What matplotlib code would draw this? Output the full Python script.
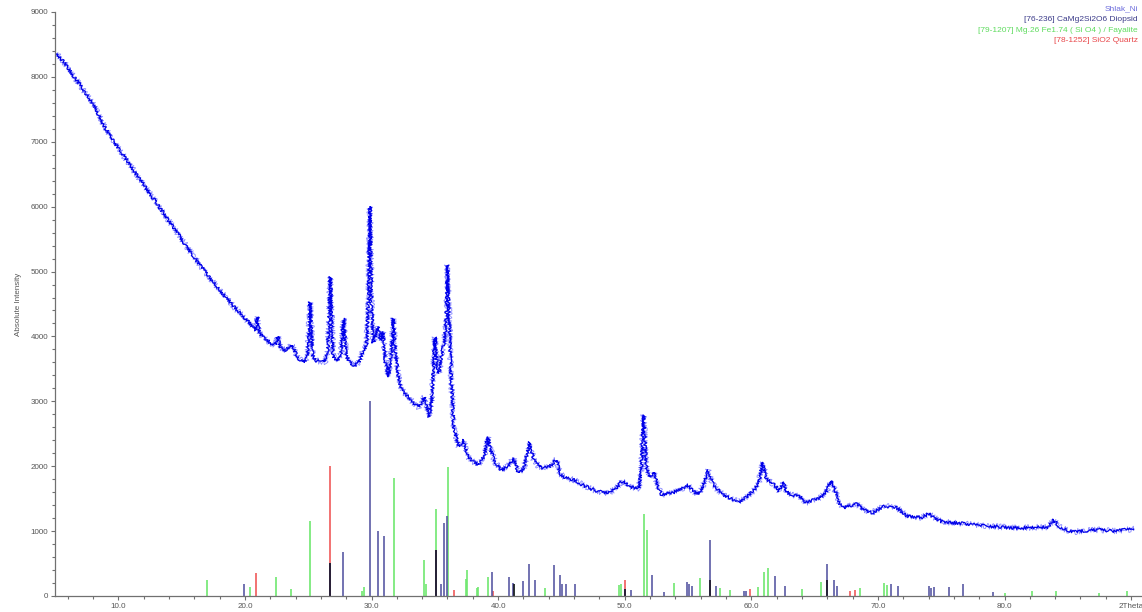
import matplotlib
matplotlib.use("Agg")
import matplotlib.pyplot as plt
import numpy as np
from matplotlib.ticker import MultipleLocator, FixedLocator

plt.rcParams["font.family"] = ["Liberation Sans", "DejaVu Sans"]

scan_2theta = [
    5.0, 5.5, 6.0, 6.5, 7.0, 7.5, 8.0, 8.5, 9.0, 9.5, 10.0, 10.5, 11.0, 11.5,
    12.0, 12.5, 13.0, 13.5, 14.0, 14.5, 15.0, 15.5, 16.0, 16.5, 17.0, 17.5,
    18.0, 18.5, 19.0, 19.5, 20.0, 20.5, 20.85, 21.0, 21.15, 21.5, 22.0, 22.4,
    22.6, 22.8, 23.2, 23.7, 24.2, 24.7, 24.95, 25.15, 25.35, 25.7, 26.3, 26.55,
    26.75, 26.95, 27.3, 27.6, 27.8, 28.0, 28.3, 28.6, 29.0, 29.35, 29.6, 29.75,
    29.88, 30.0, 30.15, 30.5, 30.7, 30.9, 31.1, 31.35, 31.55, 31.72, 31.9, 32.2,
    32.5, 32.9, 33.3, 33.7, 34.2, 34.55, 34.8, 35.0, 35.2, 35.35, 35.6, 35.75,
    35.9, 36.0, 36.12, 36.3, 36.5, 36.9, 37.3, 37.6, 38.0, 38.4, 38.9, 39.2,
    39.4, 39.8, 40.25, 40.8, 41.2, 41.6, 42.0, 42.5, 42.8, 43.2, 43.6, 44.1,
    44.6, 44.9, 45.3, 46.0, 46.8, 47.6, 48.2, 48.7, 49.3, 49.7, 50.0, 50.4,
    51.1, 51.3, 51.5, 51.7, 51.95, 52.3, 52.6, 52.9, 53.4, 53.9, 54.5, 55.0,
    55.4, 55.8, 56.2, 56.6, 56.9, 57.2, 57.8, 58.4, 59.0, 59.6, 60.2, 60.6,
    60.9, 61.2, 61.5, 61.9, 62.2, 62.5, 62.8, 63.2, 63.8, 64.3, 64.8, 65.4,
    65.9, 66.3, 66.6, 67.0, 67.3, 67.8, 68.3, 68.8, 69.5, 70.0, 70.5, 71.0,
    71.5, 72.0, 72.4, 73.0, 73.5, 74.0, 74.5, 75.0, 75.8, 76.6, 77.5, 78.5,
    79.7, 80.5, 81.5, 82.5, 83.4, 83.9, 84.3, 85.0, 85.5, 86.5, 87.5, 88.5,
    89.5, 90.2,
]
scan_counts = [
    8370, 8280, 8150, 8000, 7870, 7720, 7580, 7400, 7200, 7050, 6900, 6760, 6620, 6480,
    6340, 6200, 6060, 5920, 5780, 5640, 5500, 5360, 5220, 5090, 4960, 4840,
    4720, 4600, 4490, 4380, 4280, 4180, 4100, 4300, 4050, 3980, 3900, 3870,
    4000, 3830, 3780, 3870, 3660, 3600, 3700, 4530, 3700, 3620, 3600, 3750,
    4920, 3700, 3620, 3750, 4280, 3700, 3600, 3540, 3600, 3790, 3850, 4500,
    6000, 4500, 3900, 4150, 3940, 4070, 3600, 3380, 3700, 4280, 3700, 3280,
    3150, 3070, 2980, 2910, 3070, 2760, 3100, 3990, 3500, 3440, 3800, 3900,
    4300, 5100, 4400, 3300, 2600, 2300, 2400, 2150, 2080, 2020, 2150, 2450,
    2250, 2050, 1940, 2000, 2130, 1900, 1950, 2370, 2100, 2000, 1970, 2000,
    2100, 1880, 1820, 1790, 1700, 1630, 1600, 1590, 1650, 1760, 1760, 1680,
    1660, 1900, 2790, 2000, 1830, 1910, 1700, 1560, 1580, 1600, 1650, 1710,
    1620, 1560, 1700, 1940, 1750, 1660, 1560, 1500, 1450, 1520, 1630, 1750,
    2060, 1800, 1760, 1700, 1620, 1760, 1600, 1560, 1540, 1440, 1470, 1510,
    1600, 1780, 1620, 1420, 1360, 1390, 1420, 1340, 1280, 1330, 1390, 1370,
    1360, 1280, 1220, 1220, 1210, 1270, 1200, 1150, 1130, 1120, 1100, 1080,
    1065, 1050, 1050, 1060, 1060, 1170, 1070, 1010, 990, 1010, 1020, 1000,
    1020, 1030,
]

# reference patterns (stick positions / heights)
diopside_pos = [
    19.9, 26.72, 27.72, 29.9, 30.5, 30.98, 35.1, 35.5, 35.73, 35.93, 39.48,
    40.9, 41.2, 42.0, 42.46, 42.94, 44.42, 44.9, 45.05, 45.4, 46.1, 50.05,
    50.5, 52.18, 53.1, 54.9, 55.05, 55.3, 56.7, 57.2, 59.4, 59.6, 61.87, 62.7,
    65.94, 66.5, 66.75, 71.0, 71.6, 74.0, 74.2, 74.4, 75.6, 76.7, 79.1,
]
diopside_int = [
    180, 510, 680, 3000, 1000, 925, 710, 190, 1120, 1230, 375,
    300, 200, 230, 500, 240, 475, 320, 190, 180, 180, 110,
    90, 320, 60, 215, 180, 150, 860, 150, 70, 70, 310, 160,
    500, 250, 150, 180, 150, 150, 130, 140, 140, 185, 60,
]
fayalite_pos = [
    17.03, 20.43, 22.48, 23.67, 25.14, 29.25, 29.4, 31.77, 34.15, 34.33, 35.1,
    36.07, 37.46, 37.55, 38.3, 38.43, 39.18, 41.25, 43.7, 49.53, 49.7, 51.5,
    51.75, 53.9, 55.95, 56.7, 57.55, 58.3, 60.5, 61.0, 61.35, 64.0, 65.5,
    65.94, 68.6, 70.5, 70.7, 80.0, 82.2, 84.1, 87.5, 89.7,
]
fayalite_int = [
    250, 140, 300, 110, 1150, 70, 135, 1825, 555, 190, 1340,
    1990, 260, 400, 120, 140, 300, 190, 120, 170, 190, 1270,
    1020, 200, 280, 250, 130, 90, 140, 375, 430, 110, 220,
    250, 120, 200, 170, 40, 70, 70, 40, 70,
]
quartz_pos = [20.85, 26.72, 36.55, 39.6, 50.05, 59.9, 67.8, 68.2]
quartz_int = [350, 2000, 90, 80, 250, 110, 80, 100]

x_major = [10, 20, 30, 40, 50, 60, 70, 80, 90]
x_labels = ["10.0", "20.0", "30.0", "40.0", "50.0", "60.0", "70.0", "80.0", "2Theta"]

legend_lines = [
    ("Shlak_Ni", "#6b6bdc"),
    ("[76-236] CaMg2Si2O6 Diopsid", "#3c3c8a"),
    ("[79-1207] Mg.26 Fe1.74 ( Si O4 ) / Fayalite", "#5fdc5f"),
    ("[78-1252] SiO2 Quartz", "#e8474a"),
]

fig = plt.figure(figsize=(11.42, 6.12), dpi=100)
ax = fig.add_axes([55 / 1142, 16 / 612, 1087 / 1142, 584 / 612])

phases = [
    (fayalite_pos, fayalite_int, "#70e870"),
    (quartz_pos, quartz_int, "#f05a5a"),
    (diopside_pos, diopside_int, "#5a5aa4"),
]
for pos, inten, col in phases:
    ax.vlines(pos, 0, inten, colors=col, linewidth=1.2)

# where two patterns coincide the program draws the common part dark
overlap_x, overlap_h = [], []
for i in range(len(phases)):
    for j in range(i + 1, len(phases)):
        for p1, h1 in zip(phases[i][0], phases[i][1]):
            for p2, h2 in zip(phases[j][0], phases[j][1]):
                if abs(p1 - p2) < 0.05:
                    overlap_x.append(p1)
                    overlap_h.append(min(h1, h2))
ax.vlines(overlap_x, 0, overlap_h, colors="#1c1424", linewidth=1.2)

# counting noise is drawn as a jittery stroke (line style only)
halo, = ax.plot(scan_2theta, scan_counts, color="#6a6aff", linewidth=0.6, alpha=0.8)
halo.set_sketch_params(scale=3.0, length=1.2, randomness=3)
trace, = ax.plot(scan_2theta, scan_counts, color="#0000e8", linewidth=0.9)
trace.set_sketch_params(scale=1.5, length=1.5, randomness=3)

ax.set_xlim(5, 90.86)
ax.set_ylim(0, 9000)
ax.xaxis.set_major_locator(FixedLocator(x_major))
ax.set_xticklabels(x_labels)
ax.xaxis.set_minor_locator(MultipleLocator(2))
ax.yaxis.set_major_locator(MultipleLocator(1000))
ax.yaxis.set_minor_locator(MultipleLocator(200))

for side in ["top", "right"]:
    ax.spines[side].set_visible(False)
for side in ["left", "bottom"]:
    ax.spines[side].set_color("#707070")
    ax.spines[side].set_linewidth(0.9)

ax.tick_params(which="both", colors="#707070", labelcolor="#555555", labelsize=5.8)
ax.tick_params(which="major", length=3, width=0.8, pad=2)
ax.tick_params(which="minor", length=2, width=0.8)
ax.set_ylabel("Absolute Intensity", fontsize=5.8, color="#555555", labelpad=6)

for k, (txt, col) in enumerate(legend_lines):
    fig.text(1138 / 1142, 1 - (9 + 10.5 * k) / 612, txt, ha="right", va="center",
             fontsize=6, color=col)

fig.savefig("out.png", dpi=100)
